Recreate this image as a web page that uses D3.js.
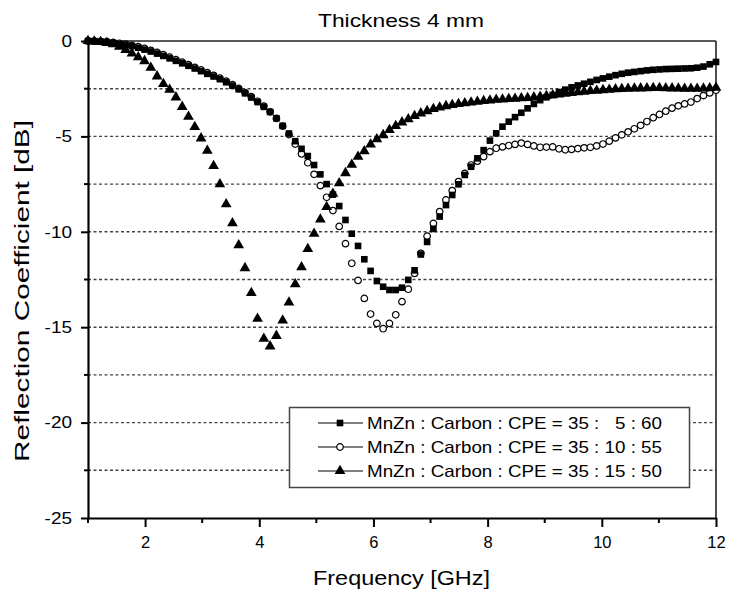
<!DOCTYPE html>
<html>
<head>
<meta charset="utf-8">
<script src="https://cdn.jsdelivr.net/npm/d3@7"></script>
<style>
  body { margin: 0; background: #ffffff; }
  svg { font-family: 'Liberation Sans', Arial, sans-serif; }
</style>
</head>
<body>
<svg id="chart" width="730" height="595"></svg>
<script>
// frequency grid [GHz]
var freq = [1.00, 1.11, 1.22, 1.33, 1.44, 1.55, 1.66, 1.77, 1.88, 1.99,
  2.10, 2.21, 2.32, 2.43, 2.54, 2.65, 2.76, 2.87, 2.98, 3.09,
  3.20, 3.31, 3.42, 3.53, 3.64, 3.75, 3.86, 3.97, 4.08, 4.19,
  4.30, 4.41, 4.52, 4.63, 4.74, 4.85, 4.96, 5.07, 5.18, 5.29,
  5.40, 5.51, 5.62, 5.73, 5.84, 5.95, 6.06, 6.17, 6.28, 6.39,
  6.50, 6.61, 6.72, 6.83, 6.94, 7.05, 7.16, 7.27, 7.38, 7.49,
  7.60, 7.71, 7.82, 7.93, 8.04, 8.15, 8.26, 8.37, 8.48, 8.59,
  8.70, 8.81, 8.92, 9.03, 9.14, 9.25, 9.36, 9.47, 9.58, 9.69,
  9.80, 9.91, 10.02, 10.13, 10.24, 10.35, 10.46, 10.57, 10.68, 10.79,
  10.90, 11.01, 11.12, 11.23, 11.34, 11.45, 11.56, 11.67, 11.78, 11.89, 12.00]

// MnZn : Carbon : CPE = 35 : 5 : 60 (squares)
var rc5 = [0, -0.01, -0.03, -0.06, -0.1, -0.15, -0.2, -0.27, -0.35, -0.45,
  -0.55, -0.66, -0.78, -0.91, -1.04, -1.17, -1.3, -1.44, -1.58, -1.72,
  -1.86, -2.0, -2.16, -2.34, -2.53, -2.74, -2.96, -3.2, -3.45, -3.72,
  -4.05, -4.45, -4.85, -5.25, -5.65, -6.03, -6.5, -6.99, -7.5, -8.05,
  -8.65, -9.38, -10.1, -10.74, -11.44, -12.05, -12.58, -12.88, -13.05, -13.05,
  -12.93, -12.52, -12.02, -11.19, -10.53, -9.85, -9.2, -8.6, -8.07, -7.51,
  -7.02, -6.59, -6.15, -5.72, -5.22, -4.84, -4.49, -4.23, -3.99, -3.76,
  -3.53, -3.3, -3.1, -2.95, -2.83, -2.68, -2.55, -2.43, -2.33, -2.24,
  -2.14, -2.04, -1.96, -1.87, -1.79, -1.72, -1.66, -1.62, -1.58, -1.54,
  -1.51, -1.49, -1.47, -1.46, -1.45, -1.44, -1.43, -1.4, -1.34, -1.22, -1.1]

// MnZn : Carbon : CPE = 35 : 10 : 55 (open circles)
var rc10 = [0, -0.01, -0.02, -0.04, -0.08, -0.12, -0.17, -0.23, -0.3, -0.39,
  -0.49, -0.6, -0.72, -0.85, -0.98, -1.11, -1.24, -1.38, -1.52, -1.66,
  -1.8, -1.95, -2.11, -2.29, -2.49, -2.7, -2.92, -3.16, -3.42, -3.71,
  -4.06, -4.46, -4.9, -5.4, -5.92, -6.38, -6.99, -7.58, -8.19, -8.89,
  -9.72, -10.62, -11.65, -12.55, -13.49, -14.31, -14.8, -15.08, -14.8, -14.35,
  -13.66, -13.01, -12.18, -11.13, -10.23, -9.56, -8.94, -8.33, -7.84, -7.37,
  -6.94, -6.5, -6.3, -6.06, -5.8, -5.62, -5.55, -5.48, -5.42, -5.35,
  -5.42, -5.5, -5.57, -5.56, -5.55, -5.65, -5.7, -5.68, -5.64, -5.6,
  -5.57, -5.5, -5.4, -5.25, -5.08, -4.92, -4.76, -4.6, -4.42, -4.22,
  -4.02, -3.85, -3.68, -3.52, -3.4, -3.3, -3.2, -3.02, -2.86, -2.72, -2.58]

// MnZn : Carbon : CPE = 35 : 15 : 50 (triangles)
var rc15 = [0, -0.02, -0.05, -0.1, -0.17, -0.3, -0.47, -0.65, -0.85, -1.05,
  -1.4, -1.85, -2.25, -2.55, -2.95, -3.45, -3.97, -4.5, -5.1, -5.75,
  -6.55, -7.5, -8.55, -9.55, -10.7, -11.9, -13.2, -14.55, -15.6, -16.0,
  -15.45, -14.65, -13.7, -12.75, -11.85, -10.9, -10.1, -9.35, -8.7, -8.0,
  -7.45, -6.92, -6.48, -6.06, -5.77, -5.42, -5.15, -4.93, -4.66, -4.45,
  -4.26, -4.1, -3.93, -3.79, -3.67, -3.56, -3.48, -3.41, -3.35, -3.3,
  -3.26, -3.22, -3.18, -3.14, -3.11, -3.08, -3.06, -3.04, -3.02, -3.0,
  -2.98, -2.95, -2.92, -2.88, -2.84, -2.8, -2.76, -2.72, -2.68, -2.65,
  -2.62, -2.6, -2.57, -2.55, -2.53, -2.51, -2.5, -2.49, -2.48, -2.47,
  -2.46, -2.46, -2.47, -2.48, -2.49, -2.5, -2.5, -2.5, -2.49, -2.47, -2.45]

var xTicks = [2, 4, 6, 8, 10, 12]
var yTicks = [0, -5, -10, -15, -20, -25]
var legendLabels = [
  'MnZn : Carbon : CPE = 35 :   5 : 60',
  'MnZn : Carbon : CPE = 35 : 10 : 55',
  'MnZn : Carbon : CPE = 35 : 15 : 50'
]

var svg = d3.select('#chart')
var margin = { left: 88, top: 41, right: 14, bottom: 77 }
var width = 730 - margin.left - margin.right
var height = 595 - margin.top - margin.bottom

var x = d3.scaleLinear().domain([1, 12]).range([0, width])
var y = d3.scaleLinear().domain([-25, 0]).range([height, 0])

var g = svg.append('g')
  .attr('transform', 'translate(' + margin.left + ',' + margin.top + ')')

// dotted grid every 2.5 dB
g.selectAll('.grid')
  .data(d3.range(-22.5, 0, 2.5))
  .enter().append('line')
  .attr('x1', 0)
  .attr('x2', width)
  .attr('y1', d => y(d))
  .attr('y2', d => y(d))
  .attr('stroke', '#444')
  .attr('stroke-width', 1.4)
  .attr('stroke-dasharray', '3,2.5')

// frame on top and right
g.append('line').attr('x1', 0).attr('x2', width).attr('y1', 0).attr('y2', 0)
  .attr('stroke', '#222').attr('stroke-width', 1.6)
g.append('line').attr('x1', width).attr('x2', width).attr('y1', 0).attr('y2', height)
  .attr('stroke', '#222').attr('stroke-width', 1.6)

// axes (plain hyphen for the minus sign, like the original)
var xAxis = g.append('g')
  .attr('transform', 'translate(0,' + height + ')')
  .call(d3.axisBottom(x).tickValues(xTicks).tickFormat(d => String(d))
    .tickSize(9).tickSizeOuter(0).tickPadding(9))
var yAxis = g.append('g')
  .call(d3.axisLeft(y).tickValues(yTicks).tickFormat(d => String(d))
    .tickSize(7).tickSizeOuter(0).tickPadding(9))

// minor ticks
g.selectAll('.xminor')
  .data([1, 3, 5, 7, 9, 11])
  .enter().append('line')
  .attr('x1', d => x(d)).attr('x2', d => x(d))
  .attr('y1', height).attr('y2', height + 5)
  .attr('stroke', '#000').attr('stroke-width', 2)
g.selectAll('.yminor')
  .data(d3.range(-22.5, 0, 5))
  .enter().append('line')
  .attr('x1', -4).attr('x2', 0)
  .attr('y1', d => y(d)).attr('y2', d => y(d))
  .attr('stroke', '#000').attr('stroke-width', 2)

;[xAxis, yAxis].forEach(function (a) {
  a.select('.domain').attr('stroke', '#000').attr('stroke-width', 2.2)
  a.selectAll('.tick line').attr('stroke', '#000').attr('stroke-width', 2)
  a.selectAll('.tick text')
    .attr('font-size', 16.5)
    .attr('font-family', "'Liberation Sans', Arial, sans-serif")
    .attr('fill', '#000')
})
// the original lettering is a bit wider than Arial
yAxis.selectAll('.tick text').each(function () {
  var t = d3.select(this)
  t.attr('textLength', this.getComputedTextLength() * 1.15)
    .attr('lengthAdjust', 'spacingAndGlyphs')
})

// series
var series = [
  { values: rc5, shape: 'square' },
  { values: rc10, shape: 'circle' },
  { values: rc15, shape: 'triangle' }
]

function marker (sel, shape) {
  if (shape === 'square') {
    sel.attr('d', d3.symbol().type(d3.symbolSquare).size(44)())
      .attr('fill', '#000')
  } else if (shape === 'circle') {
    sel.attr('d', d3.symbol().type(d3.symbolCircle).size(34)())
      .attr('fill', '#fff').attr('stroke', '#000').attr('stroke-width', 1.2)
  } else {
    sel.attr('d', d3.symbol().type(d3.symbolTriangle).size(50)())
      .attr('fill', '#000')
  }
}

// circles first so the filled squares sit on top where they overlap
;[series[1], series[0], series[2]].forEach(function (s) {
  g.append('g').selectAll('path')
    .data(freq.map((f, i) => [f, s.values[i]]))
    .enter().append('path')
    .attr('transform', d => 'translate(' + x(d[0]) + ',' + y(d[1]) + ')')
    .call(marker, s.shape)
})

// legend
var legend = svg.append('g')
legend.append('rect')
  .attr('x', 289.5).attr('y', 407.5)
  .attr('width', 400).attr('height', 80)
  .attr('fill', '#fff')
  .attr('stroke', '#444').attr('stroke-width', 1.5)

series.forEach(function (s, i) {
  var ly = 423 + i * 24
  legend.append('line')
    .attr('x1', 318).attr('x2', 363)
    .attr('y1', ly).attr('y2', ly)
    .attr('stroke', '#000').attr('stroke-width', 1.2)
  legend.append('path')
    .attr('transform', 'translate(340,' + ly + ')')
    .call(marker, s.shape)
  legend.append('text')
    .attr('x', 367).attr('y', ly + 6)
    .attr('xml:space', 'preserve')
    .style('white-space', 'pre')
    .attr('font-size', 16.5)
    .attr('textLength', 295)
    .attr('lengthAdjust', 'spacingAndGlyphs')
    .attr('fill', '#000')
    .text(legendLabels[i])
})

// titles
svg.append('text')
  .attr('x', 318).attr('y', 27)
  .attr('font-size', 19)
  .attr('textLength', 166)
  .attr('lengthAdjust', 'spacingAndGlyphs')
  .attr('fill', '#000')
  .text('Thickness 4 mm')

svg.append('text')
  .attr('x', 313).attr('y', 585)
  .attr('font-size', 20)
  .attr('textLength', 177)
  .attr('lengthAdjust', 'spacingAndGlyphs')
  .attr('fill', '#000')
  .text('Frequency  [GHz]')

svg.append('text')
  .attr('transform', 'translate(29,462) rotate(-90)')
  .attr('font-size', 20)
  .attr('textLength', 342)
  .attr('lengthAdjust', 'spacingAndGlyphs')
  .attr('fill', '#000')
  .text('Reflection Coefficient  [dB]')
</script>
</body>
</html>
